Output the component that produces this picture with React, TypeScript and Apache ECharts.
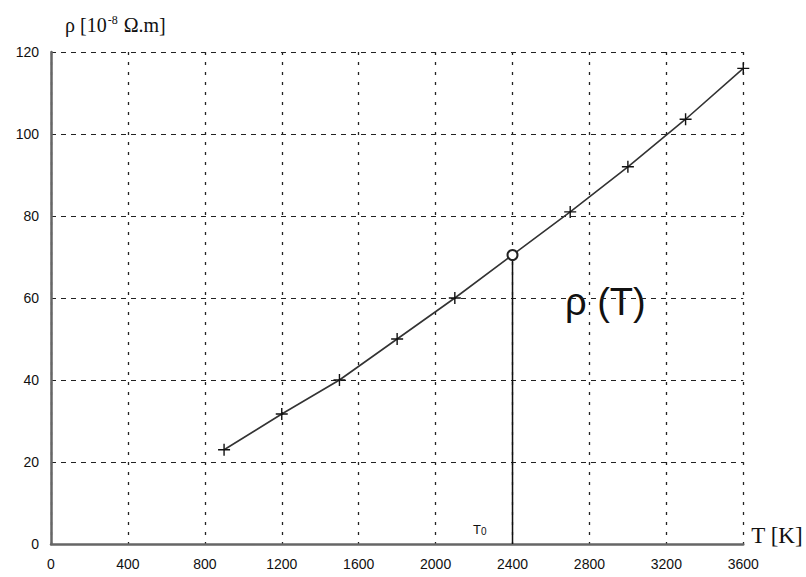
import React, { useEffect, useRef } from "react";
import * as echarts from "echarts";

const temps = [900, 1200, 1500, 1800, 2100, 2400, 2700, 3000, 3300, 3600];
const rho = [23, 31.7, 40, 50, 60, 70.5, 81, 92, 103.6, 116];
const t0 = 2400;
const t0LineTop = 69;
const xTicks = { min: 0, max: 3600, interval: 400 };
const yTicks = { min: 0, max: 120, interval: 20 };

const crossPath = "path://M0,5L10,5M5,0L5,10";

export default function App() {
  const ref = useRef<HTMLDivElement>(null);
  useEffect(() => {
    if (!ref.current) return;
    const chart = echarts.init(ref.current, null, { renderer: "svg" });
    const vGridLine = { show: true, lineStyle: { color: "#222", type: [3, 7] as any, width: 1.3 } };
    const hGridLine = { show: true, lineStyle: { color: "#222", type: [5, 5] as any, width: 1.2 } };
    const axisLine = { show: true, lineStyle: { color: "#666", width: 2.5 } };
    const labelStyle = {
      color: "#111",
      fontFamily: "Liberation Sans Narrow, Liberation Sans, Arial",
      fontSize: 14,
      formatter: (v: number) => String(v),
    };
    chart.setOption({
      animation: false,
      backgroundColor: "#fff",
      grid: { left: 51, right: 61, top: 52, bottom: 33, containLabel: false },
      xAxis: {
        type: "value",
        min: xTicks.min,
        max: xTicks.max,
        interval: xTicks.interval,
        name: "T [K]",
        nameLocation: "end",
        nameGap: 8,
        nameTextStyle: {
          fontFamily: "Liberation Serif, Times New Roman",
          fontSize: 23,
          color: "#111",
          align: "left",
          verticalAlign: "bottom",
          padding: [0, 0, -3, 0],
        },
        axisLine,
        axisTick: { show: false },
        axisLabel: { ...labelStyle, margin: 13 },
        splitLine: vGridLine,
      },
      yAxis: {
        type: "value",
        min: yTicks.min,
        max: yTicks.max,
        interval: yTicks.interval,
        name: "{a|ρ [10}{s|-8}{a| Ω.m]}",
        nameLocation: "end",
        nameGap: 17,
        nameTextStyle: {
          align: "left",
          padding: [0, 0, 0, 14],
          rich: {
            a: { fontFamily: "Liberation Serif, Times New Roman", fontSize: 20, color: "#111" },
            s: { fontFamily: "Liberation Serif, Times New Roman", fontSize: 12, color: "#111", verticalAlign: "top", padding: [0, 1, 9, 1] },
          },
        },
        axisLine,
        axisTick: { show: false },
        axisLabel: { ...labelStyle, margin: 12 },
        splitLine: hGridLine,
      },
      series: [
        {
          type: "line",
          data: temps.map((t, i) =>
            t === t0
              ? { value: [t, rho[i]], symbol: "emptyCircle", symbolSize: 10, itemStyle: { color: "#222", borderColor: "#222", borderWidth: 1.5 } }
              : [t, rho[i]]
          ),
          symbol: crossPath,
          symbolSize: 12,
          showSymbol: true,
          lineStyle: { color: "#333", width: 1.6 },
          itemStyle: { color: "#111", borderColor: "#111", borderWidth: 1.4 },
          z: 3,
        },
        {
          type: "line",
          data: [[t0, 0], [t0, t0LineTop]],
          symbol: "none",
          lineStyle: { color: "#111", width: 1.5 },
          z: 2,
        },
      ],
      graphic: [
        {
          type: "text",
          x: 565,
          y: 283,
          style: { text: "ρ (T)", fontFamily: "Liberation Sans, Arial", fontSize: 38, fill: "#111" },
        },
        {
          type: "text",
          x: 473,
          y: 522,
          style: {
            text: "{a|T}{b|0}",
            rich: {
              a: { fontFamily: "Liberation Sans, Arial", fontSize: 13, fill: "#111" },
              b: { fontFamily: "Liberation Sans, Arial", fontSize: 10, fill: "#111", padding: [4, 0, 0, 0] },
            },
          },
        },
      ],
    });
    return () => chart.dispose();
  }, []);
  return (
    <div
      ref={ref}
      style={{ position: "fixed", left: 0, top: 0, width: 806, height: 577, overflow: "hidden" }}
    />
  );
}
